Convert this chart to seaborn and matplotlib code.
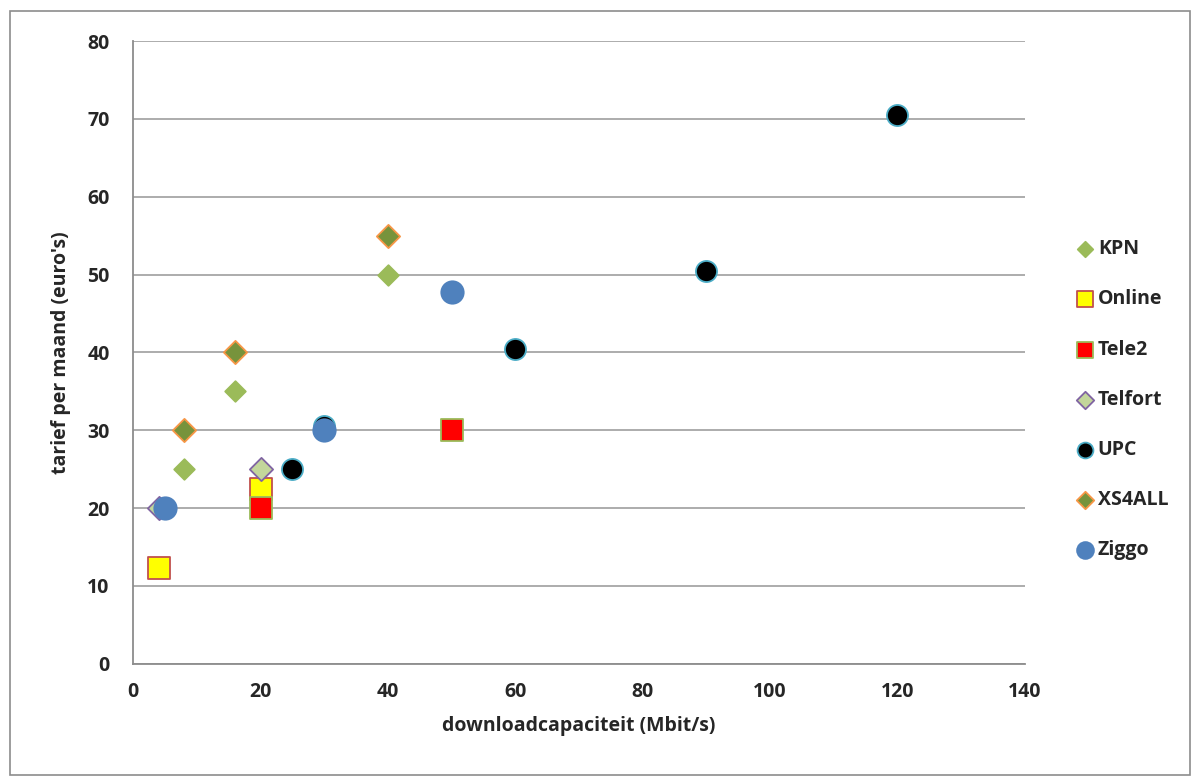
import pandas as pd
import matplotlib.pyplot as plt
import seaborn as sns

providers = ['KPN', 'Online', 'Tele2', 'Telfort', 'UPC', 'XS4ALL', 'Ziggo']
kpn_x = [8, 16, 40]
kpn_y = [25, 35, 50]
online_x = [4, 20]
online_y = [12.3, 22.5]
tele2_x = [20, 50]
tele2_y = [20, 30]
telfort_x = [4, 20]
telfort_y = [20, 25]
upc_x = [25, 30, 60, 90, 120]
upc_y = [25, 30.5, 40.5, 50.5, 70.5]
xs4all_x = [8, 16, 40]
xs4all_y = [30, 40, 55]
ziggo_x = [5, 30, 50]
ziggo_y = [20, 30, 47.8]

xs = [kpn_x, online_x, tele2_x, telfort_x, upc_x, xs4all_x, ziggo_x]
ys = [kpn_y, online_y, tele2_y, telfort_y, upc_y, xs4all_y, ziggo_y]

rows = []
for p, xx, yy in zip(providers, xs, ys):
    for a, b in zip(xx, yy):
        rows.append({'provider': p, 'download': a, 'tarief': b})
df = pd.DataFrame(rows)

styles = {
    'KPN': dict(marker='D', color='#9BBB59', edgecolor='#9BBB59', s=110),
    'Online': dict(marker='s', color='#FFFF00', edgecolor='#C0504D', s=230),
    'Tele2': dict(marker='s', color='#FF0000', edgecolor='#9BBB59', s=230),
    'Telfort': dict(marker='D', color='#C3D69B', edgecolor='#8064A2', s=140),
    'UPC': dict(marker='o', color='#000000', edgecolor='#4BACC6', s=230),
    'XS4ALL': dict(marker='D', color='#77933C', edgecolor='#F79646', s=140),
    'Ziggo': dict(marker='o', color='#4F81BD', edgecolor='#4F81BD', s=260),
}

sns.set_style('white')
plt.rcParams['font.family'] = ['Open Sans', 'DejaVu Sans']

fig = plt.figure(figsize=(12, 7.81), dpi=100)
ax = fig.add_axes([0.111, 0.150, 0.743, 0.7975])

for p in providers:
    st = styles[p]
    sns.scatterplot(data=df[df['provider'] == p], x='download', y='tarief',
                    marker=st['marker'], color=st['color'], edgecolor=st['edgecolor'],
                    s=st['s'], linewidth=1.3, label=p, ax=ax, zorder=3)

ax.set_xlim(0, 140)
ax.set_ylim(0, 80)
ax.set_xticks(range(0, 141, 20))
ax.set_yticks(range(0, 81, 10))
ax.yaxis.grid(True, color='#A6A6A6', linewidth=1.3)
ax.xaxis.grid(False)
for side in ['top', 'right']:
    ax.spines[side].set_visible(False)
for side in ['left', 'bottom']:
    ax.spines[side].set_color('#8C8C8C')
    ax.spines[side].set_linewidth(1.3)
ax.tick_params(axis='both', which='both', direction='out', length=7, width=1.3,
               color='#8C8C8C', labelsize=14, pad=6)
ax.tick_params(axis='y', pad=10)
for lab in ax.get_xticklabels() + ax.get_yticklabels():
    lab.set_fontweight('bold')

ax.set_xlabel('downloadcapaciteit (Mbit/s)', fontsize=14, fontweight='bold', labelpad=10)
ax.set_ylabel("tarief per maand (euro's)", fontsize=14, fontweight='bold', labelpad=12)

leg = ax.legend(loc='center left', bbox_to_anchor=(1.035, 0.424), frameon=False,
                fontsize=14, labelspacing=1.55, handletextpad=0.05, handlelength=1.2,
                markerscale=0.75)
for t in leg.get_texts():
    t.set_fontweight('bold')

border = plt.Rectangle((0.008, 0.008), 0.984, 0.978, transform=fig.transFigure,
                       fill=False, edgecolor='#8C8C8C', linewidth=1.2)
fig.patches.append(border)

fig.savefig('out.png', dpi=100)
